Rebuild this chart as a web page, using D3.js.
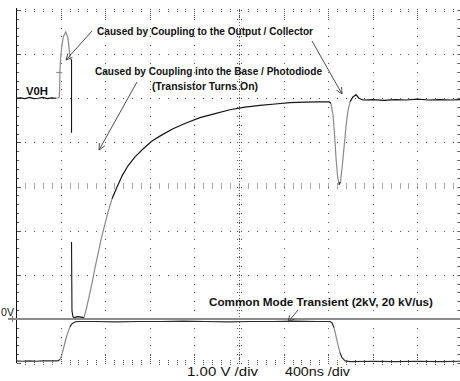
<!DOCTYPE html>
<html>
<head>
<meta charset="utf-8">
<script src="https://cdn.jsdelivr.net/npm/d3@7"></script>
<style>
  html, body { margin: 0; padding: 0; background: #fff; }
  svg { display: block; }
  .note { font-family: "Liberation Sans", Arial, sans-serif; font-weight: bold; fill: #111; }
  .scale { font-family: "Liberation Sans", Arial, sans-serif; fill: #111; }
</style>
</head>
<body>
<svg id="scope" width="460" height="381"></svg>
<script>
// ---- Scope settings ----
const timePerDiv = 400;      // ns per division
const voltsPerDiv = 1;       // V per division
const timeDivs = 10;
const voltDivs = 8;
const voltBottom = -1;       // bottom graticule line, V

// ---- Output / collector trace (ns, V) ----
// null marks the fast edge that leaves no visible trace
const outputTime = [0, 40, 80, 120, 160, 200, 240, 280, 320, 359, 380,
  520, 556, 610, 628, 655, 682, 709, 735, 762, 789, 825, 861, 906, 951, 1005, 1067, 1139,
  1220, 1309, 1408, 1525, 1650, 1785, 1919, 2054, 2188, 2323, 2457, 2592, 2709, 2807,
  2825, 2843, 2857, 2870, 2883, 2897, 2910, 2924, 2942, 2960, 2978, 2996, 3022, 3049, 3076,
  3112, 3200, 3300, 3400, 3500, 3600, 3700, 3800, 3900, 4000];
const outputVolts = [5.0, 5.01, 4.99, 5.02, 4.99, 5.0, 5.02, 4.99, 5.01, 5.0, null,
  0.03, 0.05, 0.03, 0.20, 0.50, 0.81, 1.16, 1.47, 1.79, 2.06, 2.42, 2.72, 2.99, 3.24, 3.47, 3.67, 3.85,
  4.03, 4.17, 4.31, 4.44, 4.56, 4.65, 4.74, 4.80, 4.84, 4.87, 4.90, 4.91, 4.92, 4.92,
  4.88, 4.63, 4.17, 3.65, 3.26, 3.04, 3.11, 3.42, 3.88, 4.37, 4.73, 4.92, 5.03, 5.08, 5.00,
  4.96, 4.97, 4.95, 4.97, 4.96, 4.98, 4.96, 4.97, 4.96, 4.97];

// Spike coupled onto the output by the rising common-mode edge
const spikeTime = [359, 380, 388, 392, 395, 402, 410, 424, 446, 464, 475, 484, 493];
const spikeVolts = [5.0, 5.01, 5.03, 5.30, 5.71, 5.95, 6.16, 6.39, 6.50, 6.39, 6.16, 5.93, 5.87];

// Output falling as the transistor turns on
const dropTime = [493, 498, 498, 498, 498, 502, 511, 520];
const dropVolts = [5.87, 5.87, 4.22, null, 1.74, 0.18, 0.05, 0.03];

// Common-mode transient applied across the barrier
const cmtTime = [0, 60, 120, 180, 240, 300, 377, 395, 413, 431, 448, 466, 484, 502, 529, 556,
  700, 900, 1100, 1300, 1500, 1700, 1900, 2100, 2300, 2500, 2700, 2816,
  2834, 2852, 2870, 2888, 2906, 2924, 2951, 2996, 3200, 3400, 3600, 3800, 4000];
const cmtVolts = [-0.95, -0.96, -0.95, -0.96, -0.95, -0.95, -0.95, -0.92, -0.80, -0.62, -0.45, -0.30, -0.18, -0.11, -0.07, -0.06,
  -0.06, -0.07, -0.06, -0.06, -0.05, -0.06, -0.07, -0.06, -0.06, -0.05, -0.06, -0.06,
  -0.09, -0.20, -0.39, -0.59, -0.77, -0.88, -0.95, -0.97, -0.96, -0.97, -0.96, -0.97, -0.96];

// Text
const noteOutput = "Caused by Coupling to the Output / Collector";
const noteBase = ["Caused by Coupling into the Base / Photodiode", "(Transistor Turns On)"];
const noteCmt = "Common Mode Transient (2kV, 20 kV/us)";
const levelLabel = "V0H";
const groundLabel = "0V";
const scaleLabels = ["1.00 V /div", "400ns /div"];

// ---- Scales ----
const x = d3.scaleLinear().domain([0, timePerDiv * timeDivs]).range([16, 462]);
const y = d3.scaleLinear().domain([voltBottom, voltBottom + voltsPerDiv * voltDivs]).range([363, 10]);

const svg = d3.select("#scope");
const grid = svg.append("g");

const minorT = d3.range(0, timePerDiv * timeDivs + 1, timePerDiv / 5);
const minorV = d3.range(voltBottom, voltBottom + voltDivs + 0.001, voltsPerDiv / 5).map(v => +v.toFixed(2));
const majorT = d3.range(timePerDiv, timePerDiv * timeDivs, timePerDiv);
const majorV = d3.range(voltBottom + 1, voltBottom + voltDivs, voltsPerDiv);
const centerT = timePerDiv * timeDivs / 2;
const centerV = voltBottom + voltDivs / 2;
const topV = voltBottom + voltDivs;
const isMajor = (v, step) => Math.abs(v / step - Math.round(v / step)) < 1e-6;

// Dotted horizontal graticule lines
majorV.filter(v => v !== centerV).forEach(v => {
  grid.selectAll(null).data(minorT.filter(t => t > 0 && t < timePerDiv * timeDivs)).enter()
    .append("rect").attr("x", t => Math.round(x(t))).attr("y", Math.round(y(v)))
    .attr("width", 1).attr("height", 1).attr("fill", "#555");
});
// Dotted vertical graticule lines
majorT.filter(t => t !== centerT).forEach(t => {
  grid.selectAll(null).data(minorV.filter(v => v > voltBottom && v < topV)).enter()
    .append("rect").attr("x", Math.round(x(t))).attr("y", v => Math.round(y(v)))
    .attr("width", 1).attr("height", 1).attr("fill", "#555");
});
// Centre horizontal axis with tick marks
grid.selectAll(null).data(minorT.filter(t => t > 0 && t < timePerDiv * timeDivs)).enter()
  .append("line")
  .attr("x1", t => Math.round(x(t)) + 0.5).attr("x2", t => Math.round(x(t)) + 0.5)
  .attr("y1", y(centerV) - 3).attr("y2", y(centerV) + 3)
  .attr("stroke", "#555").attr("stroke-dasharray", "1,1");
// Centre vertical axis with tick marks
grid.append("line")
  .attr("x1", Math.round(x(centerT)) + 0.5).attr("x2", Math.round(x(centerT)) + 0.5)
  .attr("y1", y(topV)).attr("y2", y(voltBottom))
  .attr("stroke", "#666").attr("stroke-dasharray", "1,2");
grid.selectAll(null).data(minorV).enter().append("line")
  .attr("x1", x(centerT) - 2).attr("x2", x(centerT) + 3)
  .attr("y1", v => Math.round(y(v)) + 0.5).attr("y2", v => Math.round(y(v)) + 0.5)
  .attr("stroke", "#555").attr("stroke-dasharray", "1,1");
// Top edge ticks
grid.selectAll(null).data(minorT.filter(t => t > 0)).enter().append("line")
  .attr("x1", t => Math.round(x(t)) + 0.5).attr("x2", t => Math.round(x(t)) + 0.5)
  .attr("y1", y(topV) - 1).attr("y2", t => y(topV) + (isMajor(t, timePerDiv) ? 8 : 3))
  .attr("stroke", "#555").attr("stroke-dasharray", "1,1");
// Bottom edge ticks
grid.selectAll(null).data(minorT.filter(t => t > 0)).enter().append("line")
  .attr("x1", t => Math.round(x(t)) + 0.5).attr("x2", t => Math.round(x(t)) + 0.5)
  .attr("y1", t => y(voltBottom) - (isMajor(t, timePerDiv) ? 8 : 3)).attr("y2", y(voltBottom) + 2)
  .attr("stroke", "#555").attr("stroke-dasharray", "1,1");
// Left edge: solid frame with ticks
grid.append("line").attr("x1", 16.5).attr("x2", 16.5).attr("y1", y(topV) - 2).attr("y2", y(voltBottom))
  .attr("stroke", "#111");
grid.selectAll(null).data(minorV).enter().append("line")
  .attr("x1", 17).attr("x2", v => isMajor(v, voltsPerDiv) ? 21 : 19)
  .attr("y1", v => Math.round(y(v)) + 0.5).attr("y2", v => Math.round(y(v)) + 0.5)
  .attr("stroke", "#555");
// Right edge ticks
grid.selectAll(null).data(minorV).enter().append("line")
  .attr("x1", 457).attr("x2", 460)
  .attr("y1", v => Math.round(y(v)) + 0.5).attr("y2", v => Math.round(y(v)) + 0.5)
  .attr("stroke", "#777");

// ---- Ground reference ----
svg.append("line")
  .attr("x1", 8).attr("x2", 460).attr("y1", y(0)).attr("y2", y(0))
  .attr("stroke", "#8c8c8c").attr("stroke-width", 2);
svg.append("line").attr("x1", 12.5).attr("x2", 12.5).attr("y1", y(0) - 3).attr("y2", y(0) + 3)
  .attr("stroke", "#777");
svg.append("text").attr("class", "scale").attr("x", 1).attr("y", y(0) - 3)
  .attr("font-size", 11).attr("textLength", 13).attr("lengthAdjust", "spacingAndGlyphs")
  .text(groundLabel);

// ---- Traces ----
const line = d3.line().x(d => x(d.t)).y(d => y(d.v));

// Fast edges look dim on the screen, slow parts bright
function drawTrace(times, volts, dark, dim) {
  const pts = times.map((t, i) => ({ t, v: volts[i] }));
  const runs = [];
  let cur = null;
  for (let i = 0; i < pts.length - 1; i++) {
    const a = pts[i], b = pts[i + 1];
    if (a.v == null || b.v == null) { cur = null; continue; }
    const dx = Math.abs(x(b.t) - x(a.t)), dy = Math.abs(y(b.v) - y(a.v));
    const col = (dy > 2.5 * dx && dy > 4) ? dim : dark;
    if (!cur || cur.col !== col) { cur = { col, pts: [a] }; runs.push(cur); }
    cur.pts.push(b);
  }
  runs.forEach(r => svg.append("path").attr("d", line(r.pts)).attr("fill", "none")
    .attr("stroke", r.col).attr("stroke-width", 1.2).attr("stroke-linejoin", "round"));
}

drawTrace(cmtTime, cmtVolts, "#2a2a2a", "#8a8a8a");
drawTrace(outputTime, outputVolts, "#151515", "#8a8a8a");

svg.append("path")
  .attr("d", line(spikeTime.map((t, i) => ({ t, v: spikeVolts[i] }))))
  .attr("fill", "none").attr("stroke", "#8a8a8a").attr("stroke-width", 1.2);
svg.append("path")
  .attr("d", d3.line().defined(d => d.v != null).x(d => x(d.t)).y(d => y(d.v))(
    dropTime.map((t, i) => ({ t, v: dropVolts[i] }))))
  .attr("fill", "none").attr("stroke", "#151515").attr("stroke-width", 1.1);
// trigger cursor on the spike
svg.append("line").attr("x1", x(spikeTime[2]) - 3).attr("x2", x(spikeTime[2]) + 3)
  .attr("y1", 72.5).attr("y2", 72.5).attr("stroke", "#8a8a8a").attr("stroke-width", 1.2);

// ---- Annotations ----
function arrow(x1, y1, x2, y2) {
  const g = svg.append("g").attr("stroke", "#3a3a3a").attr("stroke-width", 0.9).attr("fill", "none");
  g.append("line").attr("x1", x1).attr("y1", y1).attr("x2", x2).attr("y2", y2);
  const ang = Math.atan2(y1 - y2, x1 - x2), len = 7, spread = 0.45;
  [ang - spread, ang + spread].forEach(a => g.append("line")
    .attr("x1", x2).attr("y1", y2)
    .attr("x2", x2 + len * Math.cos(a)).attr("y2", y2 + len * Math.sin(a)));
}

function note(text, x0, x1, base, size) {
  svg.append("text").attr("class", "note").attr("x", x0).attr("y", base)
    .attr("font-size", size).attr("textLength", x1 - x0).attr("lengthAdjust", "spacingAndGlyphs")
    .text(text);
}

note(noteOutput, 97, 313, 35, 10);
note(noteBase[0], 95, 322, 75, 10.5);
note(noteBase[1], 152, 258, 90, 10.5);
note(noteCmt, 209, 433, 306, 10.5);
note(levelLabel, 26, 48, 95, 10);

arrow(92, 31, 66, 60);
arrow(312, 41, 342, 94);
arrow(137, 82, 99, 150);
arrow(298, 310, 288, 322);

// Scale factors
svg.append("text").attr("class", "scale").attr("x", 187).attr("y", 376).attr("font-size", 13)
  .attr("textLength", 71).attr("lengthAdjust", "spacingAndGlyphs").text(scaleLabels[0]);
svg.append("text").attr("class", "scale").attr("x", 285).attr("y", 376).attr("font-size", 13)
  .attr("textLength", 65).attr("lengthAdjust", "spacingAndGlyphs").text(scaleLabels[1]);
</script>
</body>
</html>
